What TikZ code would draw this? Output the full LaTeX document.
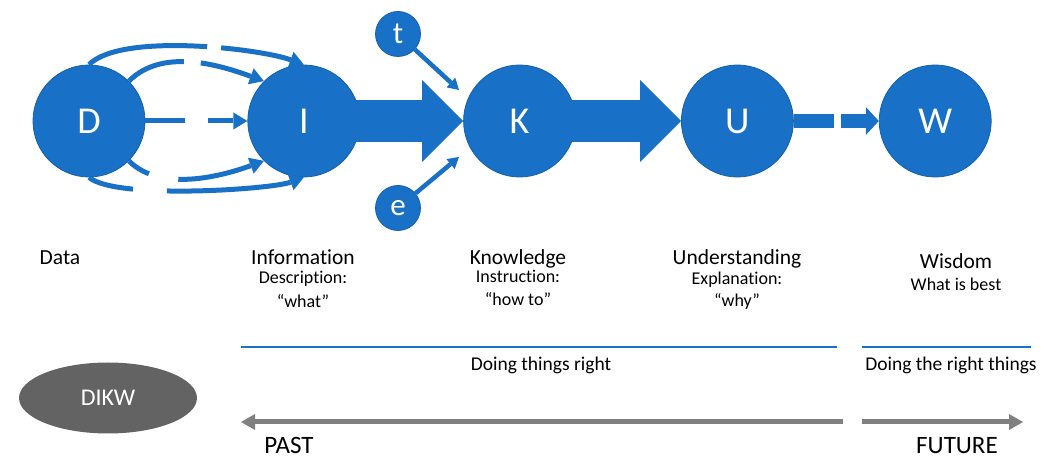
\documentclass[tikz,border=0pt]{standalone}
\usepackage{fontspec}
\setmainfont{Carlito}[RawFeature={-liga}]
\usetikzlibrary{positioning, calc, arrows.meta, shapes.geometric}
\definecolor{dikwblue}{RGB}{24,113,198}
\definecolor{dikwedge}{RGB}{22,96,168}
\definecolor{dikwgrey}{RGB}{99,99,99}
\definecolor{timegrey}{RGB}{128,128,128}
\tikzstyle{Bubble} = [circle, fill=dikwblue, draw=dikwedge, line width=0.8pt,
minimum size=112pt, inner sep=0pt, text=white,
font=\fontsize{38}{40}\selectfont]
\tikzstyle{Small} = [Bubble, minimum size=45pt, font=\fontsize{31}{33}\selectfont]
\tikzstyle{Flow} = [dikwblue, line width=5pt,
-{Triangle[length=14pt, width=17pt, line width=0pt]}]
\tikzstyle{Thin} = [dikwblue, line width=4.5pt,
-{Triangle[length=11pt, width=13pt, line width=0pt]}]
\tikzstyle{Fat} = [dikwblue, line width=42pt, shorten <=-4pt,
-{Triangle[length=41pt, width=82pt, line width=0pt]}]
\tikzstyle{Title} = [anchor=base, inner sep=0pt, font=\fontsize{21.5}{24}\selectfont]
\tikzstyle{Sub} = [anchor=base, inner sep=0pt, font=\fontsize{18}{21}\selectfont]
\tikzstyle{Doing} = [anchor=base, inner sep=0pt, font=\fontsize{19.5}{22}\selectfont]
\tikzstyle{Era} = [anchor=base, inner sep=0pt, font=\fontsize{25}{28}\selectfont]
\tikzstyle{Rule} = [dikwblue, line width=2.5pt]
\tikzstyle{Time} = [timegrey, line width=5pt,
-{Triangle[length=14pt, width=16pt, line width=0pt]}]

\begin{document}
\begin{tikzpicture}[x=1pt, y=1pt]
    \useasboundingbox (0,0) rectangle (1054,460);
    % the chain
    \node [Bubble] (D) at (89,339) {D};
    \node [Bubble, right=102pt of D] (I) {I};
    \node [Bubble, right=103pt of I] (K) {K};
    \node [Bubble, right=105pt of K] (U) {U};
    \node [Bubble, right=85pt of U] (W) {W};
    \node [Small] (t) at (398,426) {t};
    \node [Small] (e) at (398,252) {e};
    \coordinate (tk) at (459,370);
    \coordinate (ek) at (459,303);
    % data to information
    \draw[Flow, dash pattern=on 122pt off 14pt on 300pt] (D.90) to [out=45, in=160, looseness=0.55] (I.90);
    \draw[Flow, dash pattern=on 60pt off 17pt on 300pt] (D.45) to [out=45, in=160, looseness=0.9] (I.135);
    \draw[Flow, dash pattern=on 40pt off 23pt on 300pt] (D.east) -- (I.west);
    \draw[Flow, dash pattern=on 24pt off 30pt on 300pt] (D.-45) to [out=-45, in=-160, looseness=0.85] (I.-135);
    \draw[Flow, dash pattern=on 46pt off 34pt on 300pt] (D.-90) to [out=-40, in=-160, looseness=0.42] (I.-90);
    \draw[Fat] (I.east) -- (K.west);
    \draw[Fat] (K.east) -- (U.west);
    \draw[dikwblue, line width=14pt, dash pattern=on 40pt off 7pt on 200pt,
        -{Triangle[length=13pt, width=28pt, line width=0pt]}] (U.east) -- (W.west);
    \draw[Thin] (t) -- (tk);
    \draw[Thin] (e) -- (ek);
    % labels
    \node [Title] (data) at (60,195) {Data};
    \node [Title] (info) at (303,195) {Information};
    \node [Sub] (desc) at (303,176) {Description:};
    \node [Sub] (what) at (303,152) {“what”};
    \node [Title] (know) at (518,195) {Knowledge};
    \node [Sub] (instr) at (518,177) {Instruction:};
    \node [Sub] (howto) at (518,154) {“how to”};
    \node [Title] (under) at (737,195) {Understanding};
    \node [Sub] (expl) at (737,175) {Explanation:};
    \node [Sub] (why) at (737,153) {“why”};
    \node [Title] (wis) at (956,191) {Wisdom};
    \node [Sub] (best) at (956,169) {What is best};
    % doing
    \draw[Rule] (241,113) -- (837,113);
    \draw[Rule] (862,113) -- (1031,113);
    \node [Doing] (right) at (541,89) {Doing things right};
    \node [Doing] (things) at (951,89) {Doing the right things};
    % time line
    \node [ellipse, fill=dikwgrey, minimum width=178pt, minimum height=71pt,
        text=white, font=\fontsize{24}{26}\selectfont] (dikw) at (108,62) {DIKW};
    \coordinate (pastR) at (843,38);
    \coordinate (pastL) at (241,38);
    \coordinate (futL) at (862,38);
    \coordinate (futR) at (1023,38);
    \draw[Time] (pastR) -- (pastL);
    \draw[Time] (futL) -- (futR);
    \node [Era] (past) at (289,6) {PAST};
    \node [Era] (future) at (957,6) {FUTURE};
\end{tikzpicture}
\end{document}
